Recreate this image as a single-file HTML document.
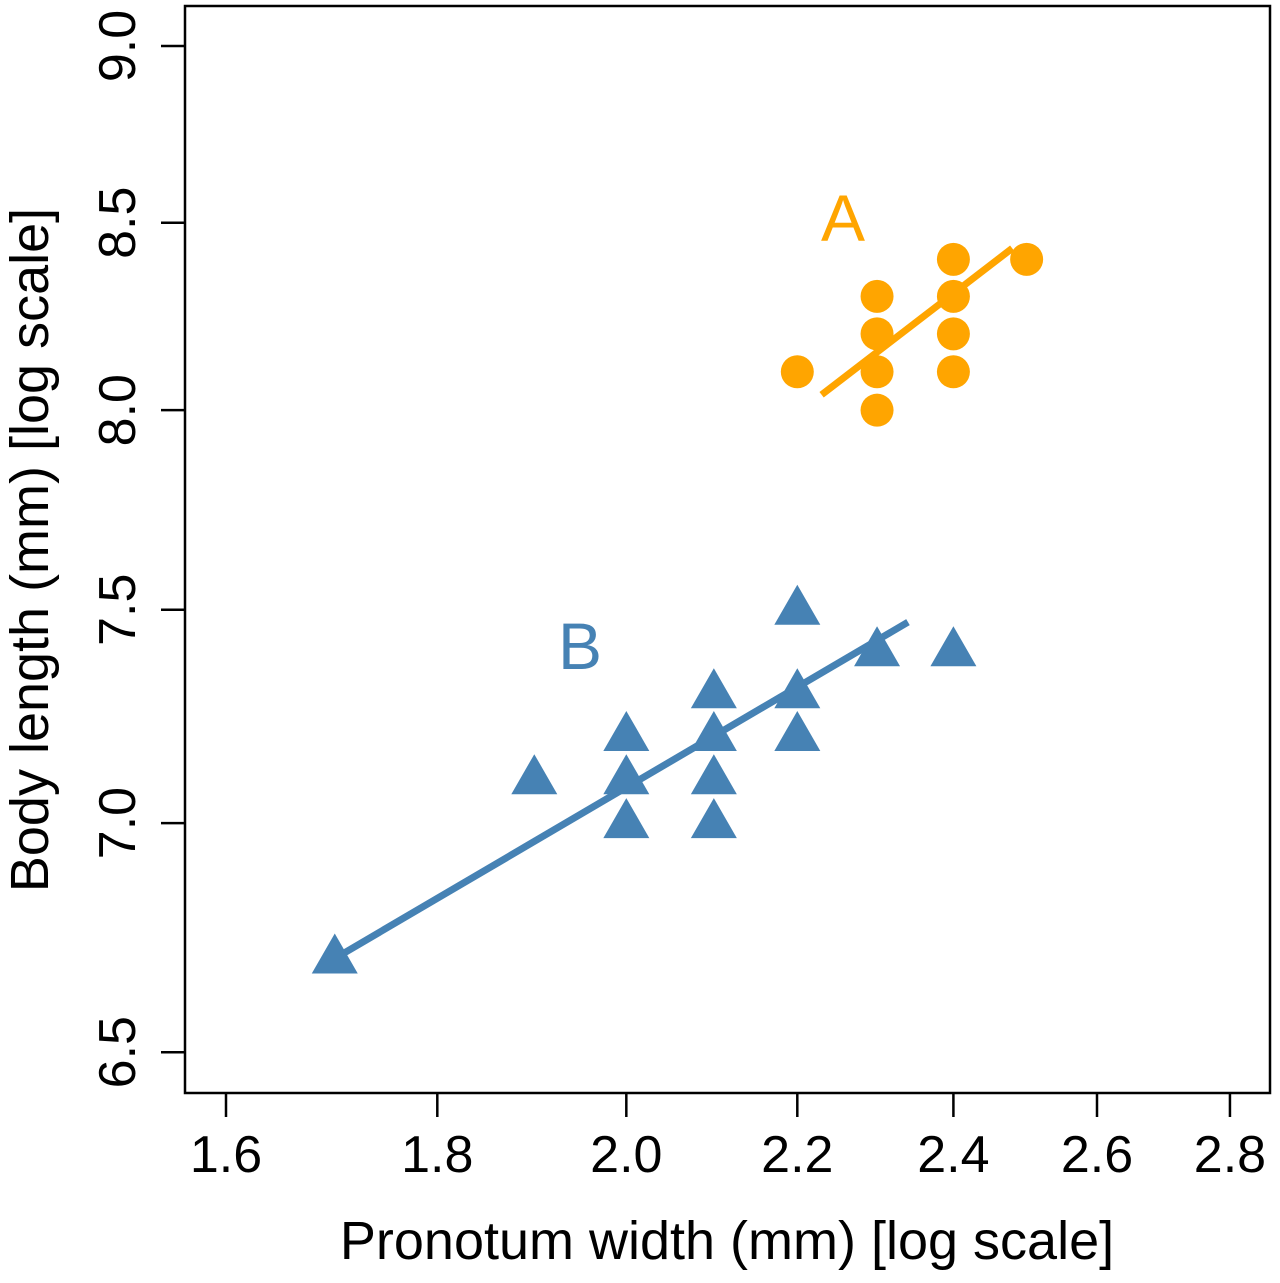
<!DOCTYPE html>
<html><head><meta charset="utf-8"><style>
html,body{margin:0;padding:0;background:#fff;}
svg text{font-family:"Liberation Sans",Arial,sans-serif;}
</style></head><body>
<svg id="chart" width="1280" height="1278" viewBox="0 0 1280 1278" xmlns="http://www.w3.org/2000/svg">
<rect x="185" y="6" width="1085" height="1087" fill="none" stroke="#000" stroke-width="2.5"/>
<g id="xaxis"></g>
<g id="yaxis"></g>
<text x="727" y="1259" font-size="54" text-anchor="middle">Pronotum width (mm) [log scale]</text>
<text transform="translate(48,550) rotate(-90)" font-size="54" text-anchor="middle">Body length (mm) [log scale]</text>
<g id="marks"></g>
<text x="843" y="241" font-size="66" fill="#FFA500" text-anchor="middle">A</text>
<text x="580" y="669" font-size="66" fill="#4682B4" text-anchor="middle">B</text>
</svg>
<script>
const xTicks=[1.6,1.8,2.0,2.2,2.4,2.6,2.8];
const yTicks=[6.5,7.0,7.5,8.0,8.5,9.0];
const aX=[2.2,2.3,2.3,2.3,2.3,2.4,2.4,2.4,2.4,2.5];
const aY=[8.1,8.3,8.2,8.1,8.0,8.4,8.3,8.2,8.1,8.4];
const bX=[1.7,1.9,2.0,2.0,2.0,2.1,2.1,2.1,2.1,2.2,2.2,2.2,2.3,2.4];
const bY=[6.7,7.1,7.2,7.1,7.0,7.3,7.2,7.1,7.0,7.5,7.3,7.2,7.4,7.4];
const aLineX=[2.23,2.48];
const aLineY=[8.04,8.43];
const bLineX=[1.7,2.34];
const bLineY=[6.7,7.47];
const NS="http://www.w3.org/2000/svg";
function sx(v){return 226+(Math.log(v)-Math.log(1.6))*1794;}
function sy(v){return 46+(Math.log(9)-Math.log(v))*3092;}
function mk(t,a,p){const e=document.createElementNS(NS,t);for(const k in a)e.setAttribute(k,a[k]);p.appendChild(e);return e;}
const xa=document.getElementById('xaxis'),ya=document.getElementById('yaxis'),m=document.getElementById('marks');
xTicks.forEach(v=>{const x=sx(v);
 const l=mk('line',{x1:x,x2:x,y1:1093,y2:1117,stroke:'#000','stroke-width':2.5},xa);
 
 
 const t=mk('text',{x:x,y:1172,'font-size':52,'text-anchor':'middle'},xa);t.textContent=v.toFixed(1);
 
 });
yTicks.forEach(v=>{const y=sy(v);
 const l=mk('line',{x1:161,x2:185,y1:y,y2:y,stroke:'#000','stroke-width':2.5},ya);
 
 
 const t=mk('text',{x:0,y:0,'font-size':52,'text-anchor':'middle',transform:`translate(135,${y}) rotate(-90)`},ya);t.textContent=v.toFixed(1);
 
 });
const la=mk('line',{x1:sx(aLineX[0]),y1:sy(aLineY[0]),x2:sx(aLineX[1]),y2:sy(aLineY[1]),stroke:'#FFA500','stroke-width':7},m);


const lb=mk('line',{x1:sx(bLineX[0]),y1:sy(bLineY[0]),x2:sx(bLineX[1]),y2:sy(bLineY[1]),stroke:'#4682B4','stroke-width':7},m);


aX.forEach((v,i)=>{const c=mk('circle',{cx:sx(v),cy:sy(aY[i]),r:16.5,fill:'#FFA500'},m);
 
 });
bX.forEach((v,i)=>{const x=sx(v),y=sy(bY[i]);
 const p=mk('polygon',{points:`${x},${y-25} ${x-23},${y+15} ${x+23},${y+15}`,fill:'#4682B4'},m);
 
 });
</script>
</body></html>
